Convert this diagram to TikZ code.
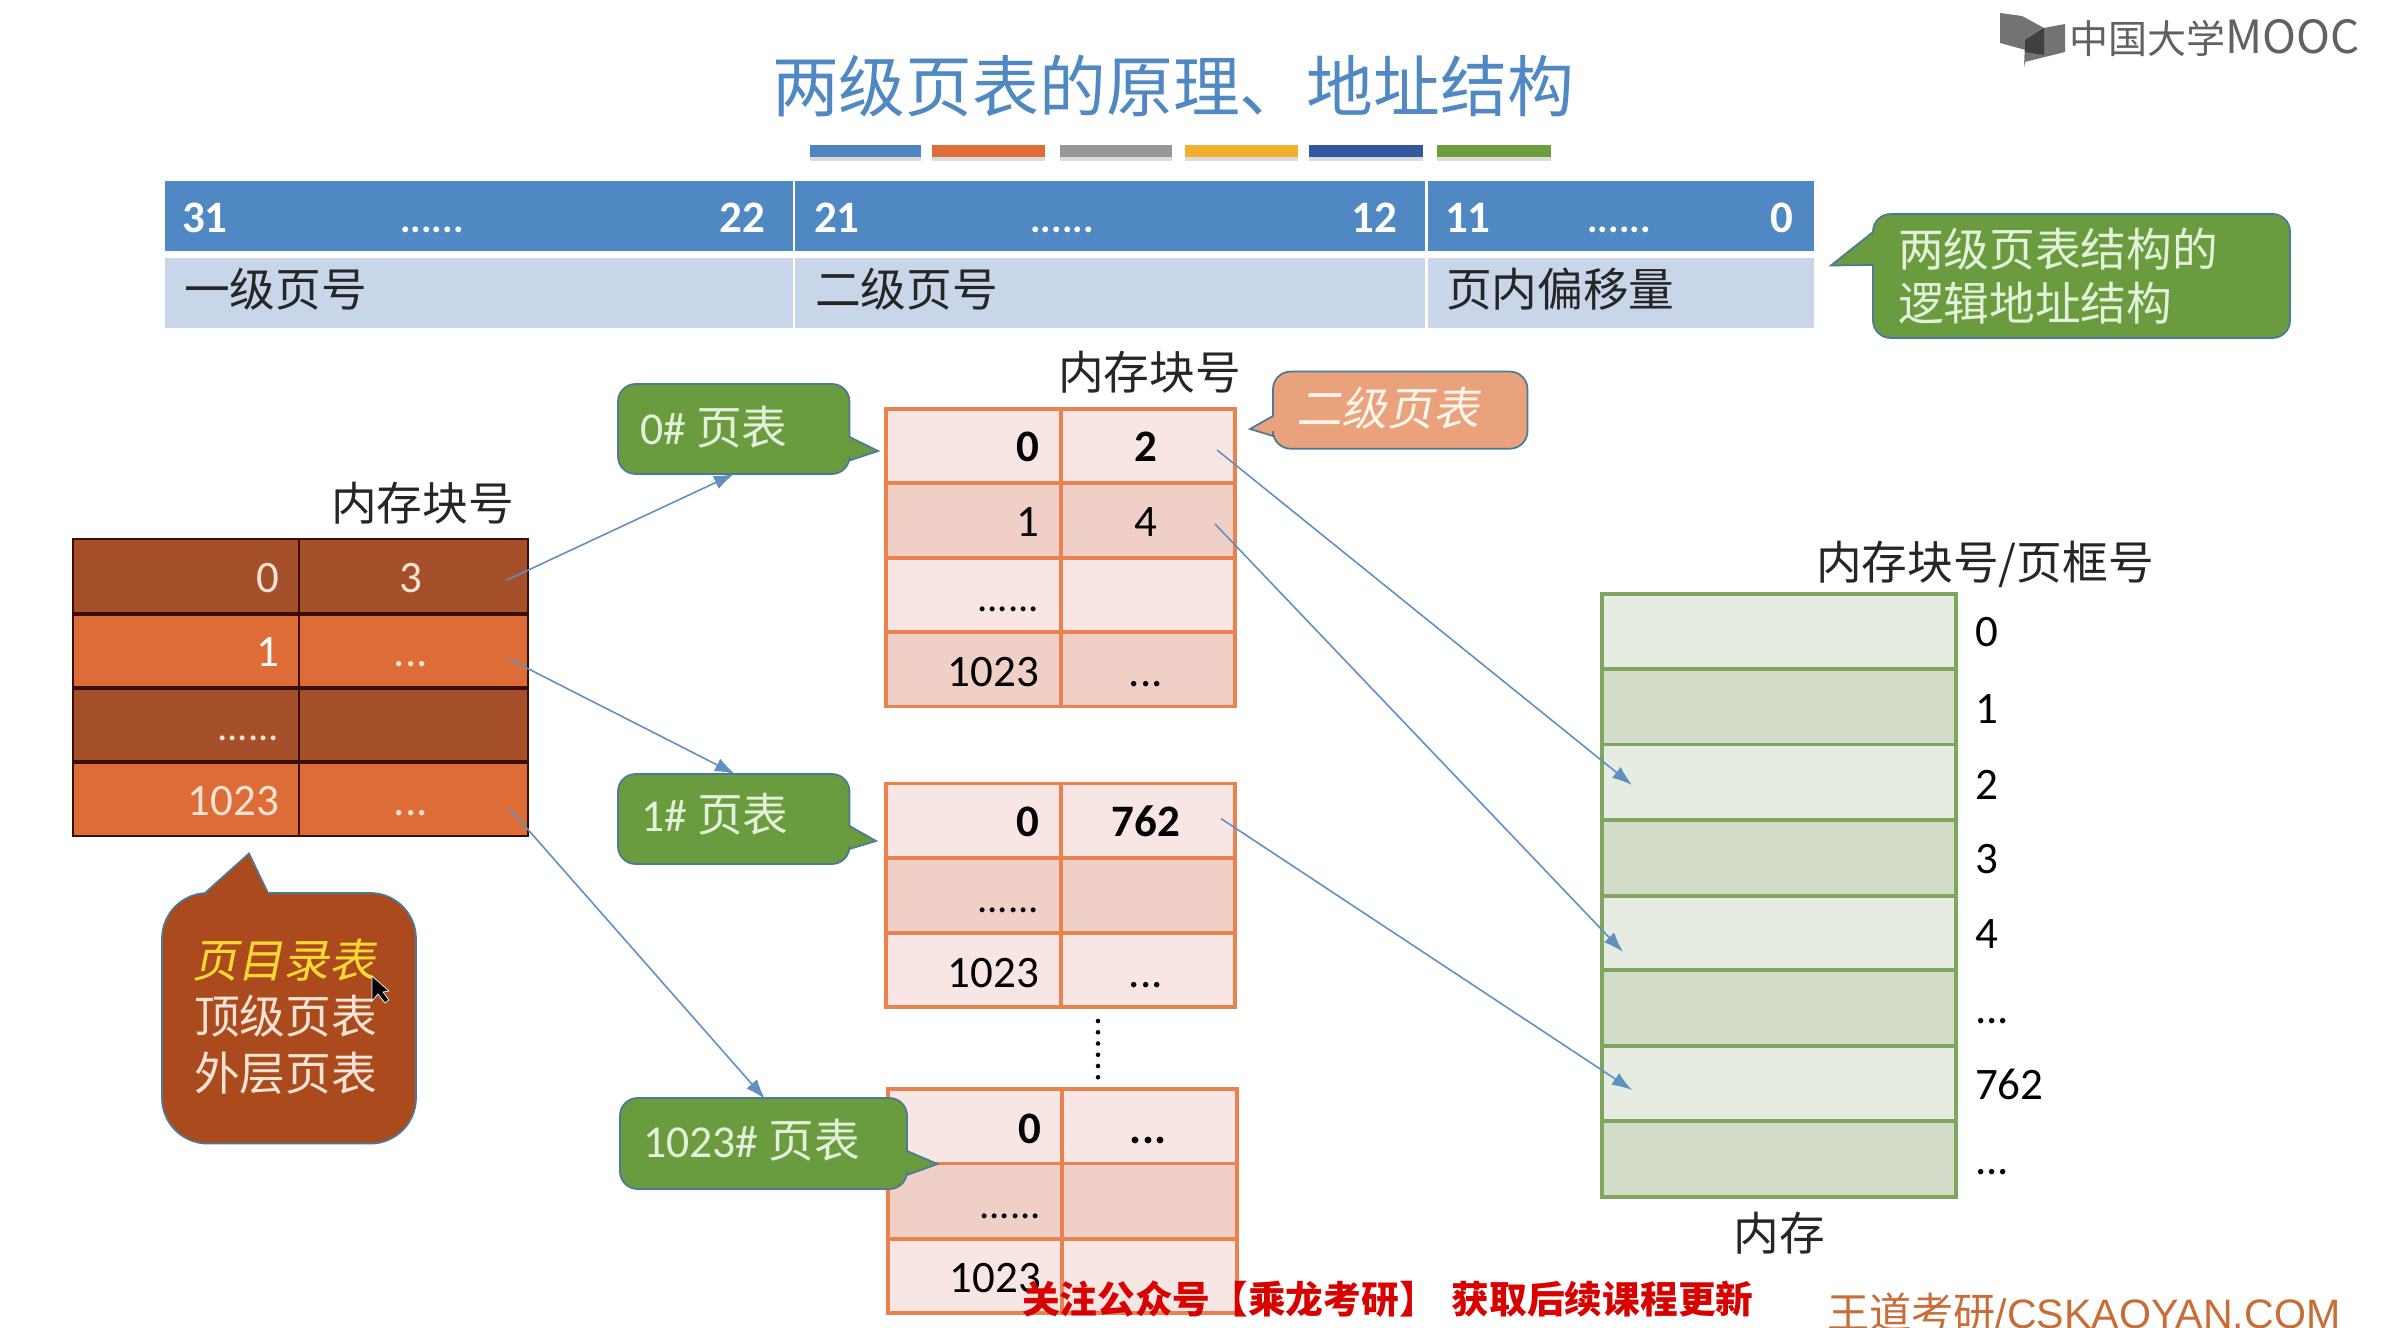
\documentclass[tikz,border=0pt]{standalone}
\usepackage{fontspec}
\setmainfont{Carlito}
\newfontfamily\cjk{Noto Sans CJK SC}
\newfontfamily\cjkit[FakeSlant=0.2]{Noto Sans CJK SC}
\newfontfamily\wdfont{Liberation Sans}
\usetikzlibrary{arrows.meta}
\definecolor{hdblue}{HTML}{4F88C3}
\definecolor{subblue}{HTML}{C9D6E9}
\definecolor{tagred}{HTML}{A5502A}
\definecolor{dirfill}{HTML}{AB4A1C}
\definecolor{dirorange}{HTML}{DE6C37}
\definecolor{dirline}{HTML}{3A0E02}
\definecolor{dirtext}{HTML}{F7E3D6}
\definecolor{dirname}{HTML}{FFD933}
\definecolor{pglight}{HTML}{F7E6E3}
\definecolor{pgdark}{HTML}{F0CFC6}
\definecolor{pgline}{HTML}{E9824F}
\definecolor{pgfill}{HTML}{E9A27C}
\definecolor{memlight}{HTML}{E6ECE2}
\definecolor{memdark}{HTML}{D2DCC9}
\definecolor{memline}{HTML}{80A55F}
\definecolor{tagfill}{HTML}{6A9B3E}
\definecolor{tagline}{HTML}{4A7A96}
\definecolor{tagtext}{HTML}{E4F1DA}
\definecolor{linkblue}{HTML}{5F90C0}
\tikzset{
	txt/.style={inner sep=0,outer sep=0,font=\fontsize{12.8}{14}\selectfont},
	cnum/.style={txt,anchor=base east},
	lnum/.style={txt,anchor=base west},
	mnum/.style={txt,anchor=base},
	chead/.style={lnum,font=\fontsize{13}{14}\selectfont\cjk,text=black!85},
	ctag/.style={lnum,text=tagtext,font=\fontsize{13}{14}\selectfont\cjk},
	bnum/.style={font=\fontsize{12.8}{14}\selectfont\bfseries},
	smalldots/.style={font=\fontsize{11.6}{14}\selectfont},
	tag/.style={draw=tagline,fill=tagfill,line width=0.5pt},
	link/.style={draw=linkblue,line width=0.45pt,-{Latex[length=0.2cm,width=0.14cm]}}
}
\begin{document}
\begin{tikzpicture}[x=0.01cm,y=-0.01cm]
	\useasboundingbox (0,0) rectangle (2400,1328);
	% title and colour bars
	\node[txt,anchor=base,text=hdblue,font=\fontsize{19}{22}\selectfont\cjk] (title) at (1173,112) {两级页表的原理、地址结构};
	\foreach \xa/\xb/\barcol in {810/921/4F86C0,932/1045/DE6E35,1060/1172/979797,1185/1298/F3B02F,1309/1423/33589F,1437/1551/6D9E3E}{
		\definecolor{barcol}{HTML}{\barcol}
		\fill[black!14] (\xa,150) rectangle (\xb,161);
		\fill[barcol] (\xa,145) rectangle (\xb,157);
	}
	% logical address
	\fill[hdblue] (165,181) rectangle (1814,251);
	\fill[subblue] (165,258) rectangle (1814,328);
	\draw[white,line width=0.8pt] (794,181) -- (794,328) (1426.5,181) -- (1426.5,328);
	\foreach \xa/\name/\tname/\xb/\tright/\xc in {182/31/a/432/22/765,814/21/b/1062/12/1397,1445/11/c/1619/0/1793}{
		\node[lnum,text=white,bnum] (hi\tname) at (\xa,233) {\name};
		\node[mnum,text=white,font=\fontsize{11.2}{14}\selectfont\bfseries] (dots\tname) at (\xb,233) {......};
		\node[cnum,text=white,bnum] (lo\tname) at (\xc,233) {\tright};
	}
	\node[chead] (first) at (184,307) {一级页号};
	\node[chead] (second) at (815,307) {二级页号};
	\node[chead] (offset) at (1446,307) {页内偏移量};
	\draw[tag] (1873,265) [rounded corners=5pt] -- (1873,338) -- (2290,338) -- (2290,214) -- (1873,214) [sharp corners] -- (1873,232) -- (1831,265.5) -- cycle;
	\node[ctag] (logic1) at (1898,267) {两级页表结构的};
	\node[ctag] (logic2) at (1898,321) {逻辑地址结构};
	\begin{scope}[shift={(0,1)}]
	% page directory
	\foreach \ya/\yb/\rowcol in {538/613/tagred,613/687/dirorange,687/761/tagred,761/835/dirorange}
		\fill[\rowcol] (73,\ya) rectangle (528,\yb);
	\draw[dirline,line width=0.8pt] (73,538) rectangle (528,835) (299,538) -- (299,835);
	\draw[dirline,line width=1pt] (73,613) -- (528,613) (73,687) -- (528,687) (73,761) -- (528,761);
	\node[cnum,text=dirtext] (dir0) at (279,592) {0};
	\node[mnum,text=dirtext] (dirv0) at (411,592) {3};
	\node[cnum,text=white] (dir1) at (279,666) {1};
	\node[mnum,text=dirtext] (dirv1) at (411,666) {...};
	\node[cnum,text=dirtext,smalldots] (dir2) at (279,740) {......};
	\node[cnum,text=dirtext] (dir3) at (279,814) {1023};
	\node[mnum,text=dirtext] (dirv3) at (411,814) {...};
	\node[chead] (dirhead) at (331,520) {内存块号};
	\draw[tag,fill=dirfill] (205,892) [rounded corners=13pt] -- (162,892) -- (162,1142.6) -- (416,1142.6) -- (416,892) [sharp corners] -- (268,892) -- (249,852.5) -- cycle;
	\node[lnum,text=dirname,font=\fontsize{13}{14}\selectfont\cjkit] (dirtitle) at (192,976) {页目录表};
	\node[lnum,text=dirtext,font=\fontsize{13}{14}\selectfont\cjk] (dirtop) at (194,1032) {顶级页表};
	\node[lnum,text=dirtext,font=\fontsize{13}{14}\selectfont\cjk] (dirouter) at (194,1089) {外层页表};
	\draw[white,fill=black,line width=0.2pt] (372,975) -- (372,1000) -- (378,993) -- (385,1002) -- (389,999) -- (383,991) -- (389,990) -- cycle;
	% second level tables
	\foreach \ya/\yb/\rowcol in {408/482/pglight,482/557/pgdark,557/631/pglight,631/705.5/pgdark,782.6/857/pglight,857/932/pgdark,932/1006/pglight}
		\fill[\rowcol] (886,\ya) rectangle (1235,\yb);
	\foreach \ya/\yb/\rowcol in {1088/1162.5/pglight,1162.5/1238/pgdark,1238/1312/pglight}
		\fill[\rowcol] (888,\ya) rectangle (1237,\yb);
	\draw[pgline,line width=0.95pt] (886,408) rectangle (1235,705.5) (1061,408) -- (1061,705.5) (886,482) -- (1235,482) (886,557) -- (1235,557) (886,631) -- (1235,631);
	\draw[pgline,line width=0.95pt] (886,782.6) rectangle (1235,1006) (1061,782.6) -- (1061,1006) (886,857) -- (1235,857) (886,932) -- (1235,932);
	\draw[pgline,line width=0.95pt] (888,1088) rectangle (1237,1312) (1062,1088) -- (1062,1312) (888,1162.5) -- (1237,1162.5) (888,1238) -- (1237,1238);
	\node[cnum,bnum] (pa0) at (1039,461) {0};
	\node[mnum,bnum] (pav0) at (1146,461) {2};
	\node[cnum] (pa1) at (1039,536) {1};
	\node[mnum] (pav1) at (1146,536) {4};
	\node[cnum,smalldots] (pa2) at (1039,611) {......};
	\node[cnum] (pa3) at (1039,685) {1023};
	\node[mnum] (pav3) at (1146,685) {...};
	\node[cnum,bnum] (pb0) at (1039,836) {0};
	\node[mnum,bnum] (pbv0) at (1146,836) {762};
	\node[cnum,smalldots] (pb1) at (1039,911) {......};
	\node[cnum] (pb2) at (1039,986) {1023};
	\node[mnum] (pbv2) at (1146,986) {...};
	\draw[black,line width=1.3pt,line cap=round,dash pattern=on 0pt off 3.2pt] (1098,1020) -- (1098,1078);
	\node[cnum,bnum] (pc0) at (1041,1142) {0};
	\node[mnum,bnum] (pcv0) at (1148,1142) {...};
	\node[cnum,smalldots] (pc1) at (1041,1217) {......};
	\node[cnum] (pc2) at (1041,1291) {1023};
	\node[chead] (pghead) at (1058,389) {内存块号};
	\draw[tag,fill=pgfill] (1273,435) [rounded corners=5pt] -- (1273,447.7) -- (1527.5,447.7) -- (1527.5,370.6) -- (1273,370.6) [sharp corners] -- (1273,415) -- (1250,428) -- cycle;
	\node[lnum,text=white!92!orange,font=\fontsize{13}{14}\selectfont\cjkit] (pgname) at (1296,425) {二级页表};
	% tags of the page tables
	\draw[tag] (849.5,459.5) [rounded corners=5pt] -- (849.5,473) -- (618,473) -- (618,383) -- (849.5,383) [sharp corners] -- (849.5,436) -- (878,450) -- cycle;
	\node[ctag] (tag0) at (640,444) {{\rmfamily 0\#} 页表};
	\draw[tag] (849.5,848) [rounded corners=5pt] -- (849.5,863) -- (618,863) -- (618,773) -- (849.5,773) [sharp corners] -- (849.5,825) -- (876,840) -- cycle;
	\node[ctag] (tag1) at (641,830) {{\rmfamily 1\#} 页表};
	\draw[tag] (907,1174) [rounded corners=5pt] -- (907,1188) -- (620,1188) -- (620,1097) -- (907,1097) [sharp corners] -- (907,1150) -- (937.5,1163) -- cycle;
	\node[ctag] (tag1023) at (643,1156) {{\rmfamily 1023\#} 页表};
	\end{scope}
	% memory
	\foreach \ya/\yb/\rowcol in {594/669/memlight,669/744.5/memdark,744.5/820/memlight,820/896/memdark,896/970/memlight,970/1046/memdark,1046/1121/memlight,1121/1197/memdark}{
		\fill[\rowcol] (1602,\ya) rectangle (1956,\yb);
		\draw[memline,line width=0.9pt] (1602,\ya) rectangle (1956,\yb);
	}
	\foreach \yy/\mname/\mtext in {647/m0/0,724/m1/1,799/m2/2,873/m3/3,948/m4/4,1099/m6/762}
		\node[lnum] (\mname) at (1975,\yy) {\mtext};
	\node[lnum] (m5) at (1975,1023) {...};
	\node[lnum] (m7) at (1975,1174) {...};
	\node[chead] (memhead) at (1816,580) {内存块号/页框号};
	\node[mnum,font=\fontsize{13}{14}\selectfont\cjk,text=black!85] (memname) at (1779,1250) {内存};
	% links
	\coordinate (d0) at (507,580);
	\coordinate (d1) at (509,659);
	\coordinate (d3) at (509,808);
	\coordinate (t0) at (734,474);
	\coordinate (t1) at (735,774);
	\coordinate (t3) at (765,1099);
	\coordinate (p0) at (1217,450);
	\coordinate (p1) at (1215,524);
	\coordinate (p2) at (1221,818.6);
	\coordinate (f2) at (1632,785);
	\coordinate (f4) at (1623,952);
	\coordinate (f6) at (1632,1090);
	\draw[link] (d0) -- (t0);
	\draw[link] (d1) -- (t1);
	\draw[link] (d3) -- (t3);
	\draw[link] (p0) -- (f2);
	\draw[link] (p1) -- (f4);
	\draw[link] (p2) -- (f6);
	% marks of the video
	\fill[black!55] (2000,13) -- (2022,16) -- (2044,28) -- (2044,55) -- (2000,43) -- cycle;
	\fill[black!55] (2044,28) -- (2065,24) -- (2065,52) -- (2025,62) -- (2024,68) -- (2025,40) -- cycle;
	\fill[black!75] (2025,40) -- (2044,28) -- (2044,55) -- (2025,52) -- cycle;
	\node[lnum,text=black!62,font=\fontsize{11.1}{13}\selectfont\cjk] (mooc) at (2069,54) {中国大学{\fontsize{13}{13}\selectfont MOOC}};
	\node[lnum,text=red!85!black,font=\fontsize{10.72}{12}\selectfont\cjk\bfseries] (notice) at (1022,1313) {关注公众号【乘龙考研】\hspace{4.3pt}获取后续课程更新};
	\node[lnum,text=brown!85!red,font=\fontsize{12}{14}\selectfont\cjk] (site) at (1827,1328) {王道考研{\wdfont\fontsize{11.7}{14}\selectfont /CSKAOYAN.COM}};
\end{tikzpicture}
\end{document}
